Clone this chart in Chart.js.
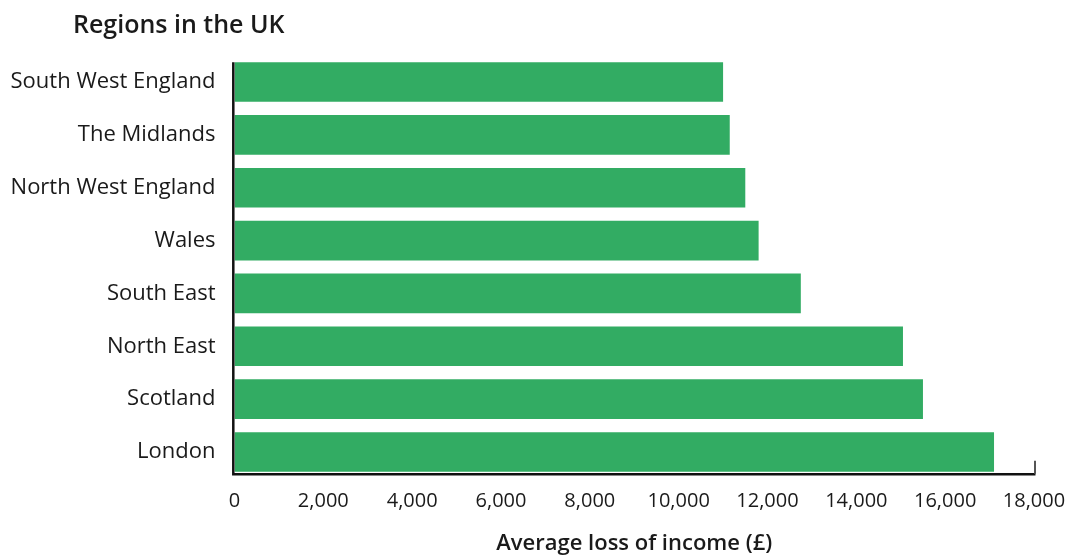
<!DOCTYPE html>
<html>
<head>
<meta charset="utf-8">
<script src="https://cdn.jsdelivr.net/npm/chart.js@4/dist/chart.umd.min.js"></script>
<style>
  html, body { margin: 0; padding: 0; background: #fff; }
  #wrap { width: 1070px; height: 555px; }
</style>
</head>
<body>
<div id="wrap"><canvas id="chart" width="1070" height="555"></canvas></div>
<script>
const regions = ['South West England', 'The Midlands', 'North West England', 'Wales', 'South East', 'North East', 'Scotland', 'London'];
const lossValues = [11000, 11150, 11500, 11800, 12750, 15050, 15500, 17100];
const xTicks = [0, 2000, 4000, 6000, 8000, 10000, 12000, 14000, 16000, 18000];

const FONT = '"Open Sans", "Noto Sans", sans-serif';
const TEXT = '#1a1a1a';
const GREEN = '#32ac63';

// axis lines only span the bars, and the chart title sits top-left
const framePlugin = {
  id: 'frame',
  afterDatasetsDraw(chart) {
    const { ctx } = chart;
    const meta = chart.getDatasetMeta(0);
    const first = meta.data[0];
    const last = meta.data[meta.data.length - 1];
    const top = first.y - first.height / 2;
    const bottom = last.y + last.height / 2;
    const x0 = chart.scales.x.getPixelForValue(0);
    const xEnd = chart.scales.x.getPixelForValue(18000);

    ctx.save();
    ctx.strokeStyle = '#111';
    ctx.lineWidth = 2.5;
    ctx.beginPath();
    ctx.moveTo(x0 - 1.2, top);
    ctx.lineTo(x0 - 1.2, bottom + 2.5);
    ctx.lineTo(xEnd + 1.5, bottom + 2.5);
    ctx.stroke();

    ctx.strokeStyle = '#555';
    ctx.lineWidth = 2;
    ctx.beginPath();
    ctx.moveTo(xEnd + 1, bottom + 2);
    ctx.lineTo(xEnd + 1, bottom - 11);
    ctx.stroke();

    ctx.fillStyle = TEXT;
    ctx.font = '600 25px ' + FONT;
    ctx.textBaseline = 'alphabetic';
    ctx.textAlign = 'left';
    ctx.fillText('Regions in the UK', 73, 33);
    ctx.restore();
  }
};

new Chart(document.getElementById('chart'), {
  type: 'bar',
  data: {
    labels: regions,
    datasets: [{
      data: lossValues,
      backgroundColor: GREEN,
      borderWidth: 0,
      barPercentage: 1,
      categoryPercentage: 0.75,
    }],
  },
  options: {
    indexAxis: 'y',
    responsive: false,
    animation: false,
    layout: { padding: { top: 55.6, right: 36, left: 0, bottom: 0 } },
    plugins: {
      legend: { display: false },
      tooltip: { enabled: false },
    },
    scales: {
      x: {
        min: 0,
        max: 18000,
        afterBuildTicks: (scale) => {
          scale.ticks = xTicks.map((v) => ({ value: v }));
        },
        afterFit: (scale) => {
          scale.height = 76.6;
          scale.paddingLeft = 0;
          scale.paddingRight = 0;
        },
        grid: { display: false, drawTicks: false },
        border: { display: false },
        ticks: {
          color: TEXT,
          font: { family: FONT, size: 20 },
          padding: 11,
          maxRotation: 0,
          callback: (v) => v.toLocaleString('en-GB'),
        },
        title: {
          display: true,
          text: 'Average loss of income (£)',
          color: TEXT,
          font: { family: FONT, size: 22, weight: '600' },
          padding: { top: 0, bottom: -2 },
        },
      },
      y: {
        afterFit: (scale) => { scale.width = 234.5; },
        grid: { display: false, drawTicks: false },
        border: { display: false },
        ticks: {
          color: TEXT,
          font: { family: FONT, size: 22 },
          padding: 19,
        },
      },
    },
  },
  plugins: [framePlugin],
});
</script>
</body>
</html>
